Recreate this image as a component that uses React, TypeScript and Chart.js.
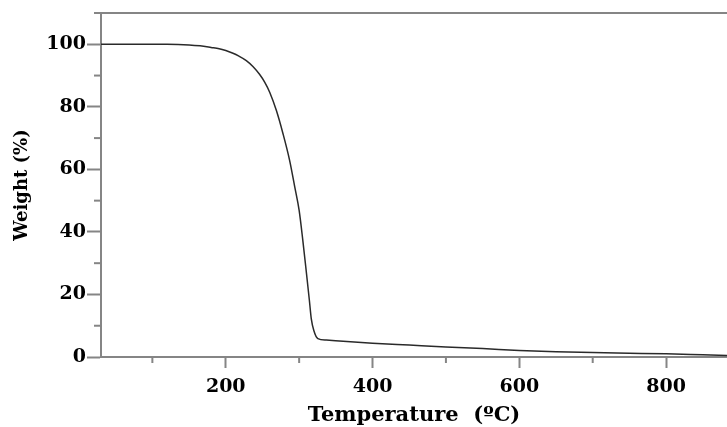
import React, { useEffect, useRef } from "react";
import { Chart, registerables } from "chart.js";

Chart.register(...registerables);

// Temperature (°C) and weight (%)
const temperatures = [30, 80, 120, 150, 165, 180, 191, 200, 209, 218, 228, 237, 246, 253, 260, 269, 278, 287, 294, 300, 305, 310, 314, 316.5, 320, 325.5, 337, 360, 400, 450, 500, 550, 600, 650, 700, 750, 800, 850, 883];
const weights = [100, 100, 100, 99.8, 99.5, 99.0, 98.6, 98.0, 97.2, 96.2, 94.8, 92.9, 90.4, 87.9, 84.6, 78.8, 71.4, 62.9, 54.4, 46.9, 37.3, 26.7, 18.0, 12.3, 8.5, 5.9, 5.4, 5.0, 4.4, 3.8, 3.2, 2.7, 2.1, 1.7, 1.4, 1.2, 1.0, 0.7, 0.5];

const xMajorLabels = [200, 400, 600, 800];
const yMajorLabels = [0, 20, 40, 60, 80, 100];

const X_TITLE = "Temperature  (ºC)";
const Y_TITLE = "Weight (%)";

const AXIS_COLOR = "#858585";
const LINE_COLOR = "#2a2a2a";
const FONT_FAMILY = "'DejaVu Serif', 'Liberation Serif', serif";

export default function App() {
  const canvasRef = useRef<HTMLCanvasElement | null>(null);

  useEffect(() => {
    document.body.style.margin = "0";
    const canvas = canvasRef.current;
    if (!canvas) return;

    const minorTicks = {
      id: "minorTicks",
      afterDraw(chart: any) {
        const { ctx, chartArea, scales } = chart;
        ctx.save();
        ctx.strokeStyle = AXIS_COLOR;
        ctx.lineWidth = 2;
        // top frame line (with its small tick at the y max)
        ctx.beginPath();
        ctx.moveTo(chartArea.left - 7, chartArea.top);
        ctx.lineTo(chartArea.right, chartArea.top);
        ctx.stroke();
        for (const t of scales.y.ticks) {
          if (yMajorLabels.includes(t.value)) continue;
          const y = scales.y.getPixelForValue(t.value);
          ctx.beginPath();
          ctx.moveTo(chartArea.left - 7, y);
          ctx.lineTo(chartArea.left, y);
          ctx.stroke();
        }
        for (const t of scales.x.ticks) {
          if (xMajorLabels.includes(t.value)) continue;
          const x = scales.x.getPixelForValue(t.value);
          ctx.beginPath();
          ctx.moveTo(x, chartArea.bottom);
          ctx.lineTo(x, chartArea.bottom + 6);
          ctx.stroke();
        }
        ctx.restore();
      },
    };

    const chart = new Chart(canvas, {
      type: "line",
      data: {
        datasets: [
          {
            data: temperatures.map((t, i) => ({ x: t, y: weights[i] })),
            borderColor: LINE_COLOR,
            borderWidth: 1.5,
            pointRadius: 0,
            fill: false,
            cubicInterpolationMode: "monotone",
          },
        ],
      },
      options: {
        animation: false,
        responsive: false,
        devicePixelRatio: 1,
        layout: { padding: { top: 13, left: 0, right: 0, bottom: 0 } },
        plugins: { legend: { display: false }, tooltip: { enabled: false } },
        scales: {
          x: {
            type: "linear",
            min: 30,
            max: 883,
            afterFit: (s: any) => {
              s.height = 70;
            },
            border: { display: true, color: AXIS_COLOR, width: 2 },
            grid: {
              display: true,
              drawOnChartArea: false,
              drawTicks: true,
              tickLength: 11,
              tickWidth: 2,
              tickColor: (c: any) => (xMajorLabels.includes(c.tick?.value) ? AXIS_COLOR : "rgba(0,0,0,0)"),
            },
            ticks: {
              stepSize: 100,
              includeBounds: false,
              autoSkip: false,
              maxRotation: 0,
              padding: 8,
              color: "#000",
              font: { family: FONT_FAMILY, size: 19, weight: "bold" },
              callback: (v: any) => (xMajorLabels.includes(Number(v)) ? String(v) : ""),
            },
            title: {
              display: true,
              text: X_TITLE,
              color: "#000",
              font: { family: FONT_FAMILY, size: 21, weight: "bold", lineHeight: 1.1 },
              padding: { top: 0, bottom: 0 },
            },
          },
          y: {
            type: "linear",
            min: 0,
            max: 110,
            afterFit: (s: any) => {
              s.width = 101;
            },
            border: { display: true, color: AXIS_COLOR, width: 2 },
            grid: {
              display: true,
              drawOnChartArea: false,
              drawTicks: true,
              tickLength: 14,
              tickWidth: 2,
              tickColor: (c: any) => (yMajorLabels.includes(c.tick?.value) ? AXIS_COLOR : "rgba(0,0,0,0)"),
            },
            ticks: {
              stepSize: 10,
              autoSkip: false,
              padding: 1,
              color: "#000",
              font: { family: FONT_FAMILY, size: 19, weight: "bold" },
              callback: (v: any) => (yMajorLabels.includes(Number(v)) ? String(v) : ""),
            },
            title: {
              display: true,
              text: Y_TITLE,
              color: "#000",
              font: { family: FONT_FAMILY, size: 18, weight: "bold", lineHeight: 1.1 },
              padding: { top: 12, bottom: 0 },
            },
          },
        },
      },
      plugins: [minorTicks],
    } as any);

    return () => chart.destroy();
  }, []);

  return (
    <div style={{ width: 727, height: 427, background: "#fff" }}>
      <canvas ref={canvasRef} width={727} height={427} style={{ width: 727, height: 427, display: "block" }} />
    </div>
  );
}
